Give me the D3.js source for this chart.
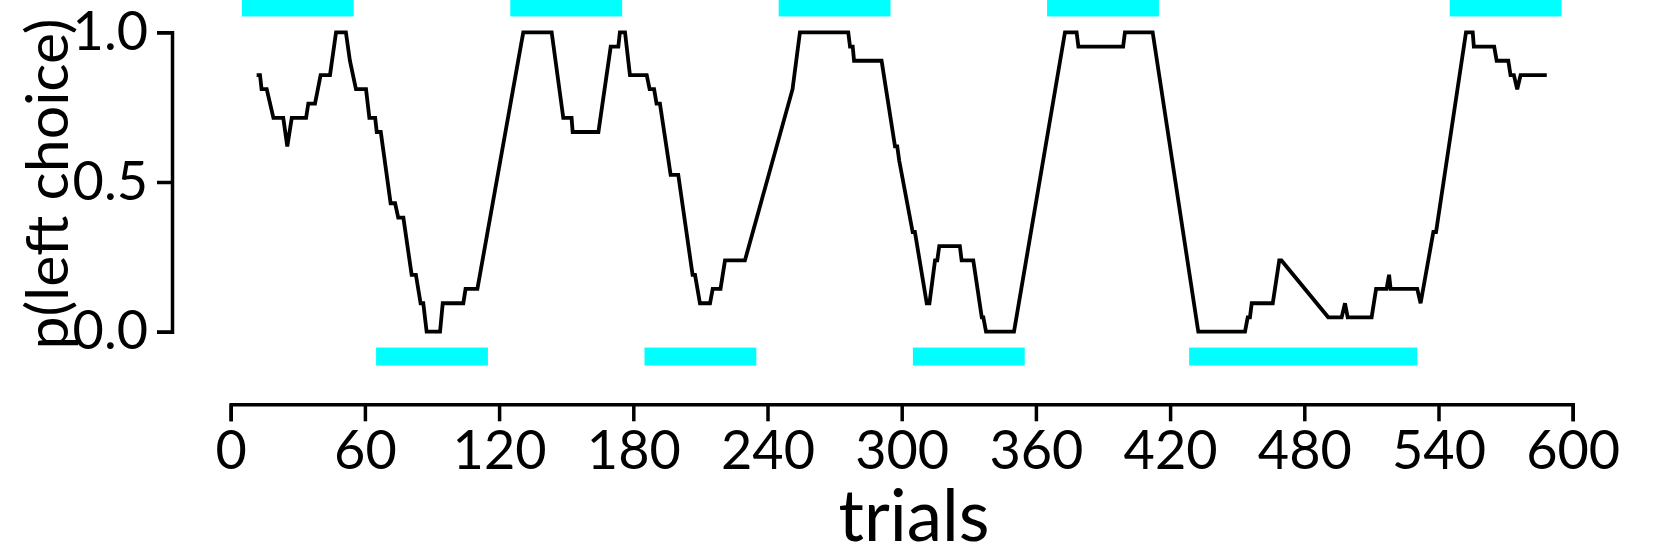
<!DOCTYPE html>
<html>
<head>
<meta charset="utf-8">
<script src="https://cdn.jsdelivr.net/npm/d3@7"></script>
<style>
  body { margin: 0; background: #fff; }
  svg { display: block; font-family: Lato, "Open Sans", sans-serif; }
</style>
</head>
<body>
<svg id="chart" width="1653" height="552"></svg>
<script>
// trial index of each vertex of the running p(left) trace
const trials = [11.6, 13.1, 13.8, 16.1, 19.1, 23.5, 25.3, 27.3, 33.7, 34.7,
  37.7, 40.2, 44.4, 47.1, 51.5, 53.3, 56, 60.5, 62, 64.6,
  65.3, 67.1, 71.5, 73.5, 74.9, 77.2, 80.9, 82.8, 84.9, 86.1,
  87.6, 93.6, 94.8, 104, 105, 110.3, 130.8, 143.5, 148.7, 152.4,
  152.9, 164.4, 169.9, 173.3, 174, 176.3, 178.5, 186, 187.3, 189.3,
  190.4, 191.9, 196.7, 200.1, 206.5, 207.6, 209.8, 214.3, 215.5, 219,
  221, 229.9, 251.2, 254.5, 276.1, 276.9, 278.1, 278.7, 291, 297,
  298, 298.9, 304.9, 305.9, 311.2, 312.4, 314.9, 315.9, 316.8, 326,
  326.8, 332, 335.8, 336.5, 337.7, 350.2, 373, 378.2, 379, 399,
  399.8, 412.2, 432.6, 453.5, 454.7, 455.7, 456.5, 465.9, 468.8, 469.8,
  490.7, 496.7, 498.2, 499.4, 510.1, 512.1, 516.8, 517.9, 518.6, 530.5,
  532, 537.7, 538.9, 552.3, 555.3, 555.8, 564.9, 566, 571.2, 572.2,
  573.7, 575.2, 576.7, 588.4];

// p(left choice) at each vertex
const pLeft = [0.857, 0.857, 0.810, 0.810, 0.714, 0.714, 0.619, 0.714, 0.714, 0.762,
  0.762, 0.857, 0.857, 1.0, 1.0, 0.905, 0.810, 0.810, 0.714, 0.714,
  0.667, 0.667, 0.429, 0.429, 0.381, 0.381, 0.190, 0.190, 0.095, 0.095,
  0.0, 0.0, 0.095, 0.095, 0.143, 0.143, 1.0, 1.0, 0.714, 0.714,
  0.667, 0.667, 0.952, 0.952, 1.0, 1.0, 0.857, 0.857, 0.810, 0.810,
  0.762, 0.762, 0.524, 0.524, 0.190, 0.190, 0.095, 0.095, 0.143, 0.143,
  0.238, 0.238, 0.810, 1.0, 1.0, 0.952, 0.952, 0.905, 0.905, 0.619,
  0.619, 0.571, 0.333, 0.333, 0.095, 0.095, 0.238, 0.238, 0.286, 0.286,
  0.238, 0.238, 0.048, 0.048, 0.0, 0.0, 1.0, 1.0, 0.952, 0.952,
  1.0, 1.0, 0.0, 0.0, 0.048, 0.048, 0.095, 0.095, 0.238, 0.238,
  0.048, 0.048, 0.095, 0.048, 0.048, 0.143, 0.143, 0.190, 0.143, 0.143,
  0.095, 0.333, 0.333, 1.0, 1.0, 0.952, 0.952, 0.905, 0.905, 0.857,
  0.857, 0.810, 0.857, 0.857];

// blocks (start, end trial): left-rewarded on top, right-rewarded below
const leftBlocks = [[5, 55], [125, 175], [245, 295], [365, 415], [545, 595]];
const rightBlocks = [[65, 115], [185, 235], [305, 355], [428.5, 530.5]];

const xTicks = [0, 60, 120, 180, 240, 300, 360, 420, 480, 540, 600];
const yTicks = [0, 0.5, 1];

const svg = d3.select("#chart");

const x = d3.scaleLinear().domain([0, 600]).range([230.7, 1572.7]);
const y = d3.scaleLinear().domain([0, 1]).range([331.7, 32.3]);

const barH = 18;

// block bars
svg.append("g").selectAll("rect.left")
  .data(leftBlocks)
  .enter().append("rect")
  .attr("x", d => x(d[0]))
  .attr("width", d => x(d[1]) - x(d[0]))
  .attr("y", y(1.083) - barH / 2)
  .attr("height", barH)
  .attr("fill", "#00ffff");

svg.append("g").selectAll("rect.right")
  .data(rightBlocks)
  .enter().append("rect")
  .attr("x", d => x(d[0]))
  .attr("width", d => x(d[1]) - x(d[0]))
  .attr("y", y(-0.083) - barH / 2)
  .attr("height", barH)
  .attr("fill", "#00ffff");

// trace
const line = d3.line()
  .x((d, i) => x(trials[i]))
  .y(d => y(d));

svg.append("path")
  .datum(pLeft)
  .attr("d", line)
  .attr("fill", "none")
  .attr("stroke", "#000")
  .attr("stroke-width", 3.8);

// axes (offset from the data, bracket ends)
const xAxis = d3.axisBottom(x)
  .tickValues(xTicks)
  .tickSize(17)
  .tickSizeOuter(17)
  .tickPadding(9);

const yAxis = d3.axisLeft(y)
  .tickValues(yTicks)
  .tickFormat(d3.format(".1f"))
  .tickSize(15)
  .tickSizeOuter(15)
  .tickPadding(9);

const gx = svg.append("g").attr("transform", "translate(0,404.3)").call(xAxis);
const gy = svg.append("g").attr("transform", "translate(172,0)").call(yAxis);

[gx, gy].forEach(g => {
  g.select(".domain").attr("stroke", "#000").attr("stroke-width", 3.5);
  g.selectAll(".tick line").attr("stroke", "#000").attr("stroke-width", 3.5);
  g.selectAll(".tick text")
    .attr("fill", "#000")
    .style("font-family", "Lato, 'Open Sans', sans-serif")
    .style("font-size", "54px");
});

// axis titles
svg.append("text")
  .attr("x", 914)
  .attr("y", 541)
  .attr("text-anchor", "middle")
  .style("font-size", "71px")
  .text("trials");

svg.append("text")
  .attr("transform", "translate(68,184) rotate(-90)")
  .attr("text-anchor", "middle")
  .style("font-size", "59px")
  .text("p(left choice)");
</script>
</body>
</html>
